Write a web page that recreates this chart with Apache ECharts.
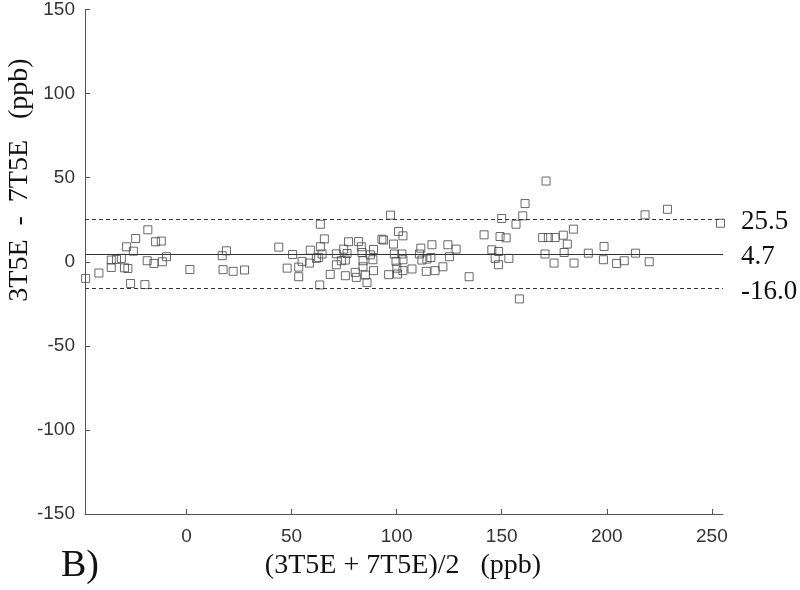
<!DOCTYPE html>
<html>
<head>
<meta charset="utf-8">
<script src="https://cdn.jsdelivr.net/npm/echarts@6/dist/echarts.min.js"></script>
<style>
html,body{margin:0;padding:0;background:#fff;}
#chart{width:800px;height:590px;}
</style>
</head>
<body>
<div id="chart"></div>
<script>
// mean of the two methods (ppb)
var avgPpb = [
  -48, -41.7, -35.8, -35.8, -33.3, -31.0, -28.5, -24.2, -25.3, -29.5, -27.9, -26.6, -19.8, -18.4, -18.7, -15.5, -14.7, -12.0, -11.5, -9.5,
  1.6, 17.0, 19.0, 17.4, 22.2,
  27.6, 43.9, 47.9, 50.5, 53.4, 53.4, 55.0, 58.5, 58.9, 61.8, 62.9, 63.7, 63.7, 64.5, 65.6, 63.4, 68.4, 71.3, 71.3, 75.6,
  75.6, 77.1, 74.8, 76.4, 73.7, 80.3, 80.8, 81.9, 83.2, 83.5, 84.0, 84.0, 85.1, 85.9, 87.5, 89.0, 88.7, 89.0, 93.0, 93.8,
  96.2, 97.1, 98.5, 98.9, 99.7, 100.1, 100.4, 100.9, 103.0, 102.5, 103.0, 103.0, 107.3, 111.5, 110.9, 112.0, 114.1, 116.8, 114.4,
  116.3, 118.3, 122.0, 124.4, 125.1, 128.3, 134.5, 141.6, 145.3, 148.5, 146.9, 148.5, 149.2, 152.1, 150.0, 153.4, 156.8,
  160.0, 161.1, 158.4, 171.1, 169.5, 172.2, 175.4, 179.3, 184.1, 181.2, 170.6, 179.7, 174.9, 184.4, 191.2, 198.7, 198.4, 204.7,
  208.3, 213.7, 220.2, 218.2, 228.9, 254.1
];
// difference between the two methods (ppb)
var diffPpb = [
  -9.9, -6.7, 1.0, -3.4, 1.4, 2.0, 8.9, 13.8, 6.3, -3.6, -4.0, -12.9, -13.6, 19.0, 0.6, -1.0, 11.9, 12.3, 0.0, 3.0,
  -4.6, 3.6, 6.5, -4.7, -5.7,
  -4.9, 8.7, -3.8, 4.3, -3.2, -8.9, 0.2, -0.8, 6.9, 2.0, 2.6, 22.3, 8.9, 4.6, 13.6, -13.8, -7.5, 4.7, -1.8, -8.3,
  1.0, 11.9, 7.5, 4.9, 0.6, -6.3, -9.3, 12.0, 8.9, 5.5, 0.6, -3.0, -7.9, -12.4, 4.1, 7.3, 1.2, -5.3, 13.4, 12.9,
  -7.7, 27.7, 10.5, 4.6, 0.2, -3.8, -7.3, 18.0, 15.4, 4.6, 1.2, -5.3, -4.3, 8.1, 4.6, 1.0, -5.7, 10.1, 1.6,
  2.5, -5.3, -3.0, 10.1, 3.0, 7.5, -8.9, 16.0, 7.1, 6.1, 2.0, -1.8, 15.0, 14.2, 25.7, 2.0, 22.3,
  27.3, 34.6, -22.1, 48.0, 14.4, 14.4, 14.4, 15.8, 19.4, 10.5, 4.6, 5.5, -0.8, -0.8, 5.1, 9.1, 1.2, -1.0,
  0.6, 5.1, 0.0, 27.9, 31.2, 22.9
];
var xTicks = [0, 50, 100, 150, 200, 250];
var limitValues = [25.5, 4.7, -16.0];
var limitLabels = ['25.5', '4.7', '-16.0'];
var limitDashed = [true, false, true];

var points = avgPpb.map(function (v, i) { return [v, diffPpb[i]]; });

var chart = echarts.init(document.getElementById('chart'));
var tickFont = { fontFamily: '"Liberation Sans", Arial, sans-serif', fontSize: 19, color: '#333' };
var serif = '"Liberation Serif", "Times New Roman", serif';

chart.setOption({
  animation: false,
  backgroundColor: '#fff',
  grid: { left: 85, right: 77, top: 9, bottom: 76 },
  xAxis: {
    type: 'value',
    min: -48.3,
    max: 255.3,
    splitLine: { show: false },
    axisLine: { onZero: false, lineStyle: { color: '#555', width: 1 } },
    axisTick: { inside: true, length: 5, customValues: xTicks, lineStyle: { color: '#555' } },
    axisLabel: Object.assign({ customValues: xTicks, margin: 13 }, tickFont)
  },
  yAxis: {
    type: 'value',
    min: -150,
    max: 150,
    interval: 50,
    splitLine: { show: false },
    axisLine: { onZero: false, lineStyle: { color: '#555', width: 1 } },
    axisTick: { inside: true, length: 5, lineStyle: { color: '#555' } },
    axisLabel: Object.assign({ margin: 10 }, tickFont)
  },
  series: [{
    type: 'scatter',
    data: points,
    symbol: 'rect',
    symbolSize: 8,
    itemStyle: { color: 'rgba(0,0,0,0)', borderColor: '#444', borderWidth: 1 },
    markLine: {
      silent: true,
      symbol: 'none',
      data: limitValues.map(function (v, i) {
        return {
          yAxis: v,
          lineStyle: { color: '#333', width: 1, type: limitDashed[i] ? [4, 3] : 'solid' },
          label: {
            show: true,
            position: 'end',
            distance: 18,
            formatter: limitLabels[i],
            fontFamily: serif,
            fontSize: 27,
            color: '#111',
            offset: [0, 3]
          }
        };
      })
    }
  }],
  graphic: [
    {
      type: 'text', x: 20, y: 180, rotation: Math.PI / 2,
      style: { text: '3T5E  -  7T5E   (ppb)', font: '28px ' + serif, fill: '#111', textAlign: 'center', textVerticalAlign: 'middle' }
    },
    {
      type: 'text', x: 403, y: 566,
      style: { text: '(3T5E + 7T5E)/2   (ppb)', font: '28px ' + serif, fill: '#111', textAlign: 'center', textVerticalAlign: 'middle' }
    },
    {
      type: 'text', x: 61, y: 566,
      style: { text: 'B)', font: '38px ' + serif, fill: '#111', textAlign: 'left', textVerticalAlign: 'middle' }
    }
  ]
});
</script>
</body>
</html>
